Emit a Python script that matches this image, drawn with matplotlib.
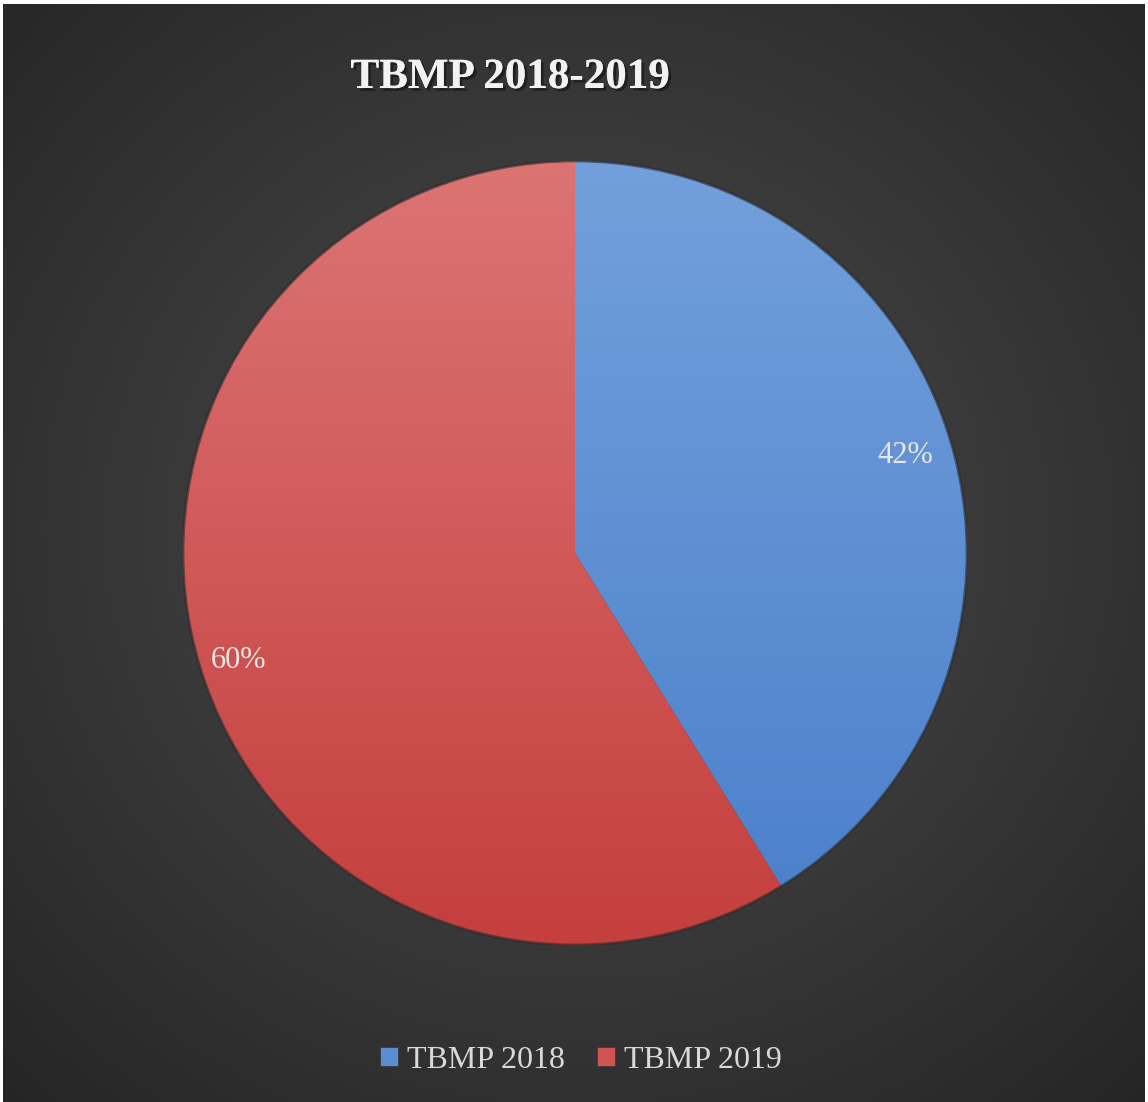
import numpy as np
import matplotlib.pyplot as plt
import matplotlib.colors as mcolors
import matplotlib.patheffects as pe

# data
labels = ['TBMP 2018', 'TBMP 2019']
values = [42, 60]
colors_top = ['#73a0dc', '#dc7474']
colors_bot = ['#4a7fca', '#c43f3d']
colors_mid = ['#5b8dd3', '#d05552']
title = 'TBMP 2018-2019'

W, H = 1148, 1102
fig = plt.figure(figsize=(W / 100, H / 100), dpi=100)
fig.patch.set_facecolor('white')

# dark radial background (leaves thin white strip top/left/right)
bg = fig.add_axes([3 / W, 0, (W - 6) / W, (H - 4) / H])
yy, xx = np.mgrid[0:200, 0:200]
cx, cy = 100, 95
r = np.sqrt((xx - cx) ** 2 + (yy - cy) ** 2) / 141.0
g = np.clip(0.30 - 0.15 * r, 0, 1)
bg.imshow(np.dstack([g, g, g]), extent=[0, 1, 0, 1], aspect='auto', origin='upper')
bg.set_xlim(0, 1)
bg.set_ylim(0, 1)
bg.axis('off')

# pie axes placed so that center ~ (575, 553), radius ~392 px
cxp, cyp, rad = 575, 553, 392
ax = fig.add_axes([(cxp - rad) / W, (H - cyp - rad) / H, 2 * rad / W, 2 * rad / H])
ax.set_facecolor('none')

wedges, texts, autotexts = ax.pie(
    values, colors=colors_mid, startangle=90, counterclock=False,
    autopct=lambda p: '%d%%' % round(p * sum(values) / 100.0), pctdistance=0.885,
    radius=1.0, wedgeprops=dict(edgecolor='#3a3a3a', linewidth=0.6),
    textprops=dict(color='#e6e6e6', fontsize=22, family='Liberation Serif'))

# vertical gradient fill clipped to each wedge
grad = np.linspace(0, 1, 256)[:, None]
for w, ct, cb in zip(wedges, colors_top, colors_bot):
    c1 = np.array(mcolors.to_rgb(ct))
    c2 = np.array(mcolors.to_rgb(cb))
    img = c1[None, None, :] * (1 - grad[:, :, None]) + c2[None, None, :] * grad[:, :, None]
    img = np.repeat(img, 2, axis=1)
    im = ax.imshow(img, extent=[-1, 1, -1, 1], origin='upper', aspect='auto', zorder=w.get_zorder() + 0.1)
    im.set_clip_path(w)

# soft dark rim around the pie
ax.add_patch(plt.Circle((0, 0), 1.0, fill=False, edgecolor='#2a2a2a', linewidth=2.0, alpha=0.6, zorder=4))

# nudge the labels a little, as in the source chart
for w, t, dth, rr in zip(wedges, autotexts, [0.6, 1.8], [0.878, 0.9]):
    th = np.deg2rad((w.theta1 + w.theta2) / 2 + dth)
    t.set_position((rr * np.cos(th), rr * np.sin(th)))
    t.set_zorder(5)

ax.set_xlim(-1, 1)
ax.set_ylim(-1, 1)
ax.set_aspect('auto')
ax.axis('off')

# title with a soft shadow
fig.text(510 / W, 1 - 78 / H, title, ha='center', va='center', fontsize=31, fontweight='bold',
         family='Liberation Serif', color='#f2f2f2',
         path_effects=[pe.withSimplePatchShadow(offset=(2, -2), shadow_rgbFace='black', alpha=0.4), pe.Normal()])

# legend
leg = fig.legend(wedges, labels, loc='center', bbox_to_anchor=(581 / W, 1 - 1060 / H), ncol=2,
                 frameon=False, handlelength=0.55, handleheight=0.55, handletextpad=0.3, columnspacing=1.0,
                 prop=dict(family='Liberation Serif', size=23))
for t in leg.get_texts():
    t.set_color('#d9d9d9')

fig.savefig('out.png', dpi=100, facecolor=fig.get_facecolor())
